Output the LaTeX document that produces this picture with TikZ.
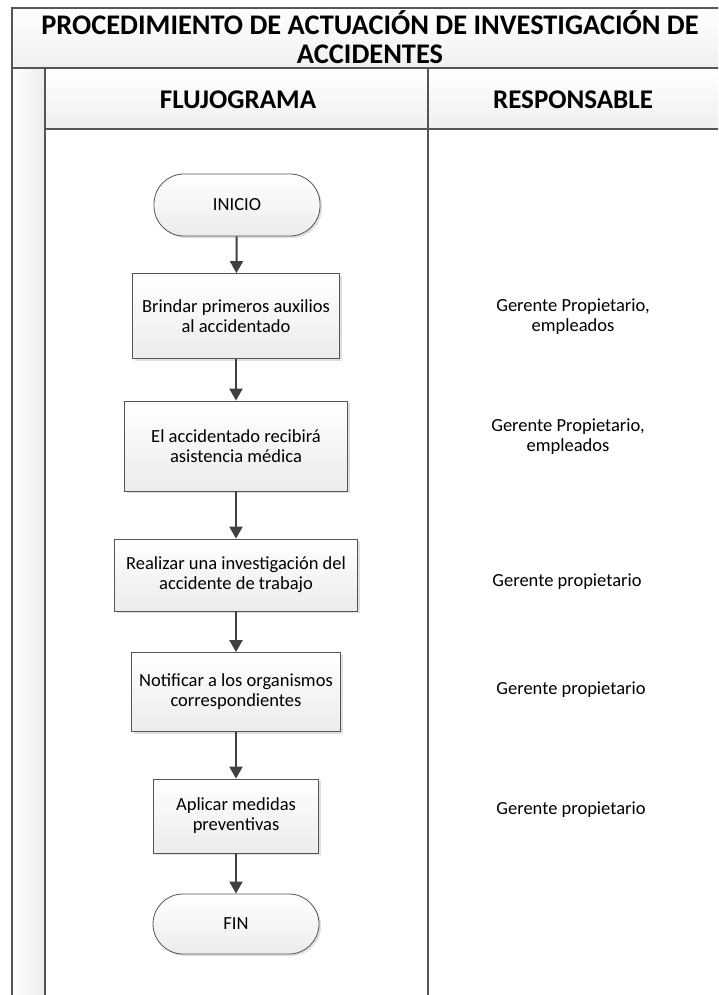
\documentclass[tikz,border=0pt]{standalone}
\usepackage{fontspec}
\setmainfont{Carlito}
\usetikzlibrary{arrows.meta,shadows,positioning}
\definecolor{framegray}{HTML}{555555}
\definecolor{arrowgray}{HTML}{404040}
\tikzset{
  stepbox/.style={draw=framegray, line width=0.8pt, top color=white, bottom color=gray!15,
    drop shadow={opacity=0.25,shadow xshift=2pt,shadow yshift=-2pt},
    inner sep=0pt, align=center, font=\fontsize{18.5}{20}\selectfont},
  endbox/.style={stepbox, rounded corners=30pt},
  flow/.style={arrowgray, line width=2pt, -{Triangle[length=12pt,width=13pt]}},
  resp/.style={align=center, font=\fontsize{18.5}{20}\selectfont},
  head/.style={align=center, font=\fontsize{27}{29}\selectfont\bfseries},
  frame/.style={framegray, line width=1.3pt}
}

\begin{document}
\begin{tikzpicture}[x=1pt,y=-1pt]
\useasboundingbox (0,0) rectangle (718,995);
\clip (0,0) rectangle (718,995);

%Title band
\shade[top color=white, bottom color=gray!12] (12,8) rectangle (730,68);
%Side band
\shade[left color=white, right color=gray!15] (12,68) rectangle (45,1000);
%Column headers
\shade[top color=white, bottom color=gray!12] (45,68) rectangle (730,129);

%Frame lines
\draw[frame] (730,8) -- (12,8) -- (12,1000);
\draw[frame] (12,68) -- (730,68);
\draw[frame] (45,68) -- (45,1000);
\draw[frame] (45,129) -- (730,129);
\draw[frame] (428,68) -- (428,1000);

%Headings
\node[head, font=\fontsize{28.4}{29}\selectfont\bfseries] (title) at (370,37) {PROCEDIMIENTO DE ACTUACIÓN DE INVESTIGACIÓN DE\\ACCIDENTES};
\node[head] (flujo) at (238,100) {FLUJOGRAMA};
\node[head] (resph) at (573,100) {RESPONSABLE};

%Flowchart
\node[endbox, minimum width=166pt, minimum height=62pt] (inicio) at (237,205) {INICIO};
\node[stepbox, minimum width=207pt, minimum height=85pt] (brindar) at (236,316) {Brindar primeros auxilios\\al accidentado};
\node[stepbox, minimum width=223pt, minimum height=90pt] (asist) at (236,446) {El accidentado recibirá\\asistencia médica};
\node[stepbox, minimum width=243pt, minimum height=72pt] (invest) at (236,575) {Realizar una investigación del\\accidente de trabajo};
\node[stepbox, minimum width=209pt, minimum height=79pt] (notif) at (236,692) {Notificar a los organismos\\correspondientes};
\node[stepbox, minimum width=165pt, minimum height=74pt] (medidas) at (236,816) {Aplicar medidas\\preventivas};
\node[endbox, minimum width=166pt, minimum height=60pt] (fin) at (236,924) {FIN};

\draw[flow] (inicio) -- (brindar);
\draw[flow] (brindar) -- (asist);
\draw[flow] (asist) -- (invest);
\draw[flow] (invest) -- (notif);
\draw[flow] (notif) -- (medidas);
\draw[flow] (medidas) -- (fin);

%Responsables
\node[resp] (r1) at (573,317) {Gerente Propietario,\\empleados};
\node[resp] (r2) at (568,437) {Gerente Propietario,\\empleados};
\node[resp] (r3) at (567,582) {Gerente propietario};
\node[resp] (r4) at (571,690) {Gerente propietario};
\node[resp] (r5) at (571,810) {Gerente propietario};
\end{tikzpicture}
\end{document}
